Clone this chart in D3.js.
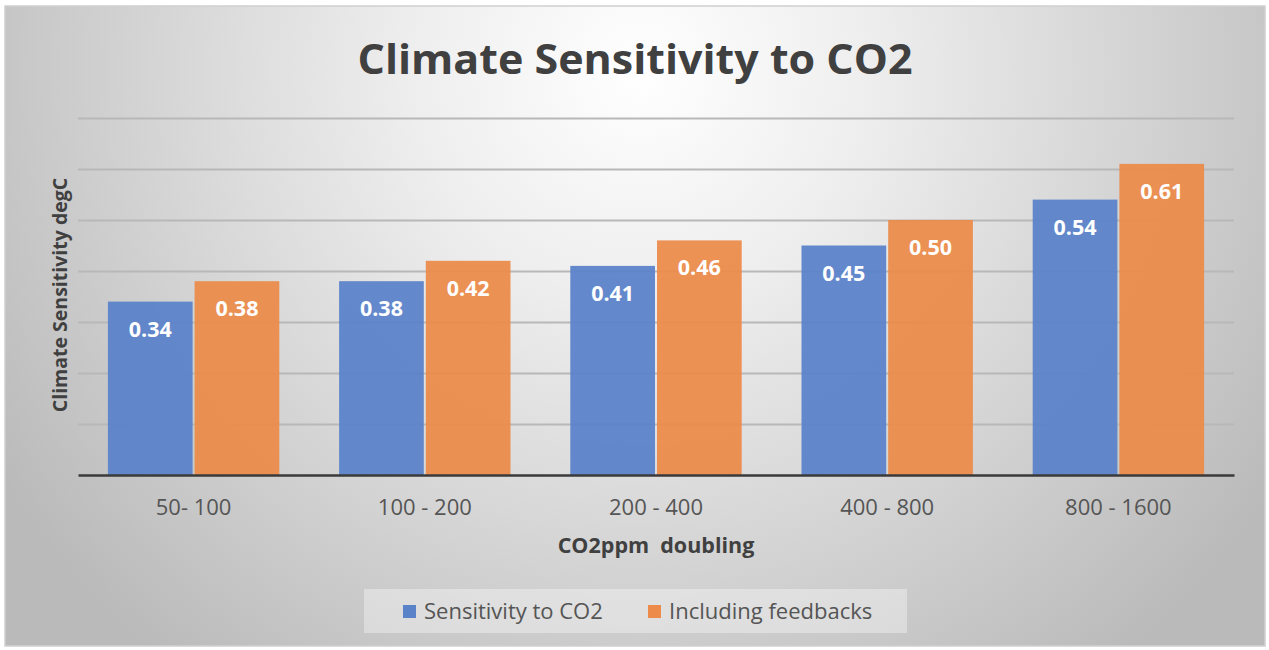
<!DOCTYPE html>
<html><head><meta charset="utf-8">
<script src="https://cdn.jsdelivr.net/npm/d3@7"></script>
<style>html,body{margin:0;padding:0;background:#fff;}svg{display:block;}</style>
</head><body>
<script>
const categories = ["50- 100", "100 - 200", "200 - 400", "400 - 800", "800 - 1600"];
const seriesNames = ["Sensitivity to CO2", "Including feedbacks"];
const sensitivity = [0.34, 0.38, 0.41, 0.45, 0.54];
const feedbacks = [0.38, 0.42, 0.46, 0.50, 0.61];
const yTicks = [0, 0.1, 0.2, 0.3, 0.4, 0.5, 0.6, 0.7];
const colors = ["#5a82c9", "#ec8b4a"];

const W = 1269, H = 650;
const svg = d3.select("body").append("svg").attr("width", W).attr("height", H);
const defs = svg.append("defs");
const rg = defs.append("radialGradient").attr("id", "bg").attr("gradientUnits", "userSpaceOnUse")
  .attr("cx", 640).attr("cy", 70).attr("r", 760);
rg.append("stop").attr("offset", 0).attr("stop-color", "#ffffff");
rg.append("stop").attr("offset", 0.3).attr("stop-color", "#eeeeee");
rg.append("stop").attr("offset", 1).attr("stop-color", "#bababa");

svg.append("rect").attr("x", 0).attr("y", 0).attr("width", W).attr("height", H).attr("fill", "#ffffff");
svg.append("rect").attr("x", 5).attr("y", 6).attr("width", 1260).attr("height", 640)
  .attr("fill", "url(#bg)").attr("stroke", "#d0d0d0").attr("stroke-width", 1.5);

const pLeft = 78, pRight = 1234, pTop = 118, pBottom = 475;
const x0 = d3.scaleBand().domain(categories).range([pLeft, pRight]).paddingInner(0.25).paddingOuter(0.125);
const x1 = d3.scaleBand().domain(seriesNames).range([0, x0.bandwidth()]).padding(0);
const y = d3.scaleLinear().domain([0, 0.7]).range([pBottom, pTop]);

// gridlines
svg.append("g").attr("transform", `translate(${pLeft},0)`)
  .call(d3.axisLeft(y).tickValues(yTicks.slice(1)).tickSize(-(pRight - pLeft)).tickFormat(""))
  .call(g => g.select(".domain").remove())
  .call(g => g.selectAll("line").attr("stroke", "#b8b8b8").attr("stroke-width", 2));

const data = categories.map((c, i) => ({c, vals: [sensitivity[i], feedbacks[i]]}));
const groups = svg.append("g").selectAll("g").data(data).join("g")
  .attr("transform", d => `translate(${x0(d.c)},0)`);
groups.selectAll("rect").data(d => d.vals.map((v, j) => ({v, j})))
  .join("rect")
  .attr("x", d => x1(seriesNames[d.j]) + 1)
  .attr("width", x1.bandwidth() - 2)
  .attr("y", d => y(d.v))
  .attr("height", d => pBottom - y(d.v))
  .attr("fill", d => colors[d.j]).attr("fill-opacity", 0.94);
groups.selectAll("text").data(d => d.vals.map((v, j) => ({v, j})))
  .join("text")
  .attr("x", d => x1(seriesNames[d.j]) + x1.bandwidth() / 2)
  .attr("y", d => y(d.v) + 35)
  .attr("text-anchor", "middle")
  .attr("font-family", "Open Sans, sans-serif").attr("font-weight", "bold").attr("font-size", 21.5)
  .attr("fill", "#ffffff")
  .text(d => d.v.toFixed(2));

// x axis
const xa = svg.append("g").attr("transform", `translate(0,${pBottom})`)
  .call(d3.axisBottom(x0).tickSize(0).tickPadding(24));
xa.select(".domain").attr("stroke", "#3a3a3a").attr("stroke-width", 2.5);
xa.selectAll("text").attr("font-family", "Open Sans, sans-serif").attr("font-size", 22).attr("fill", "#555");

// titles
svg.append("text").attr("x", 635).attr("y", 74).attr("text-anchor", "middle")
  .attr("font-family", "Open Sans, sans-serif").attr("font-weight", "bold").attr("font-size", 42)
  .attr("fill", "#404040").attr("textLength", 555).attr("lengthAdjust", "spacingAndGlyphs")
  .text("Climate Sensitivity to CO2");
svg.append("text").attr("x", 656).attr("y", 553).attr("text-anchor", "middle")
  .attr("font-family", "Open Sans, sans-serif").attr("font-weight", "bold").attr("font-size", 21.5)
  .attr("fill", "#404040").attr("xml:space", "preserve")
  .text("CO2ppm  doubling");
svg.append("text").attr("transform", "translate(67,295) rotate(-90)").attr("text-anchor", "middle")
  .attr("font-family", "Open Sans, sans-serif").attr("font-weight", "bold").attr("font-size", 19.5)
  .attr("fill", "#404040")
  .text("Climate Sensitivity degC");

// legend
const lg = svg.append("g");
lg.append("rect").attr("x", 364).attr("y", 589).attr("width", 543).attr("height", 44)
  .attr("fill", "#ffffff").attr("fill-opacity", 0.35);
const legendX = [403, 648];
seriesNames.forEach((n, i) => {
  lg.append("rect").attr("x", legendX[i]).attr("y", 605).attr("width", 13).attr("height", 13).attr("fill", colors[i]);
  lg.append("text").attr("x", legendX[i] + 21).attr("y", 619)
    .attr("font-family", "Open Sans, sans-serif").attr("font-size", 22).attr("fill", "#555")
    .text(n);
});
</script>
</body></html>
